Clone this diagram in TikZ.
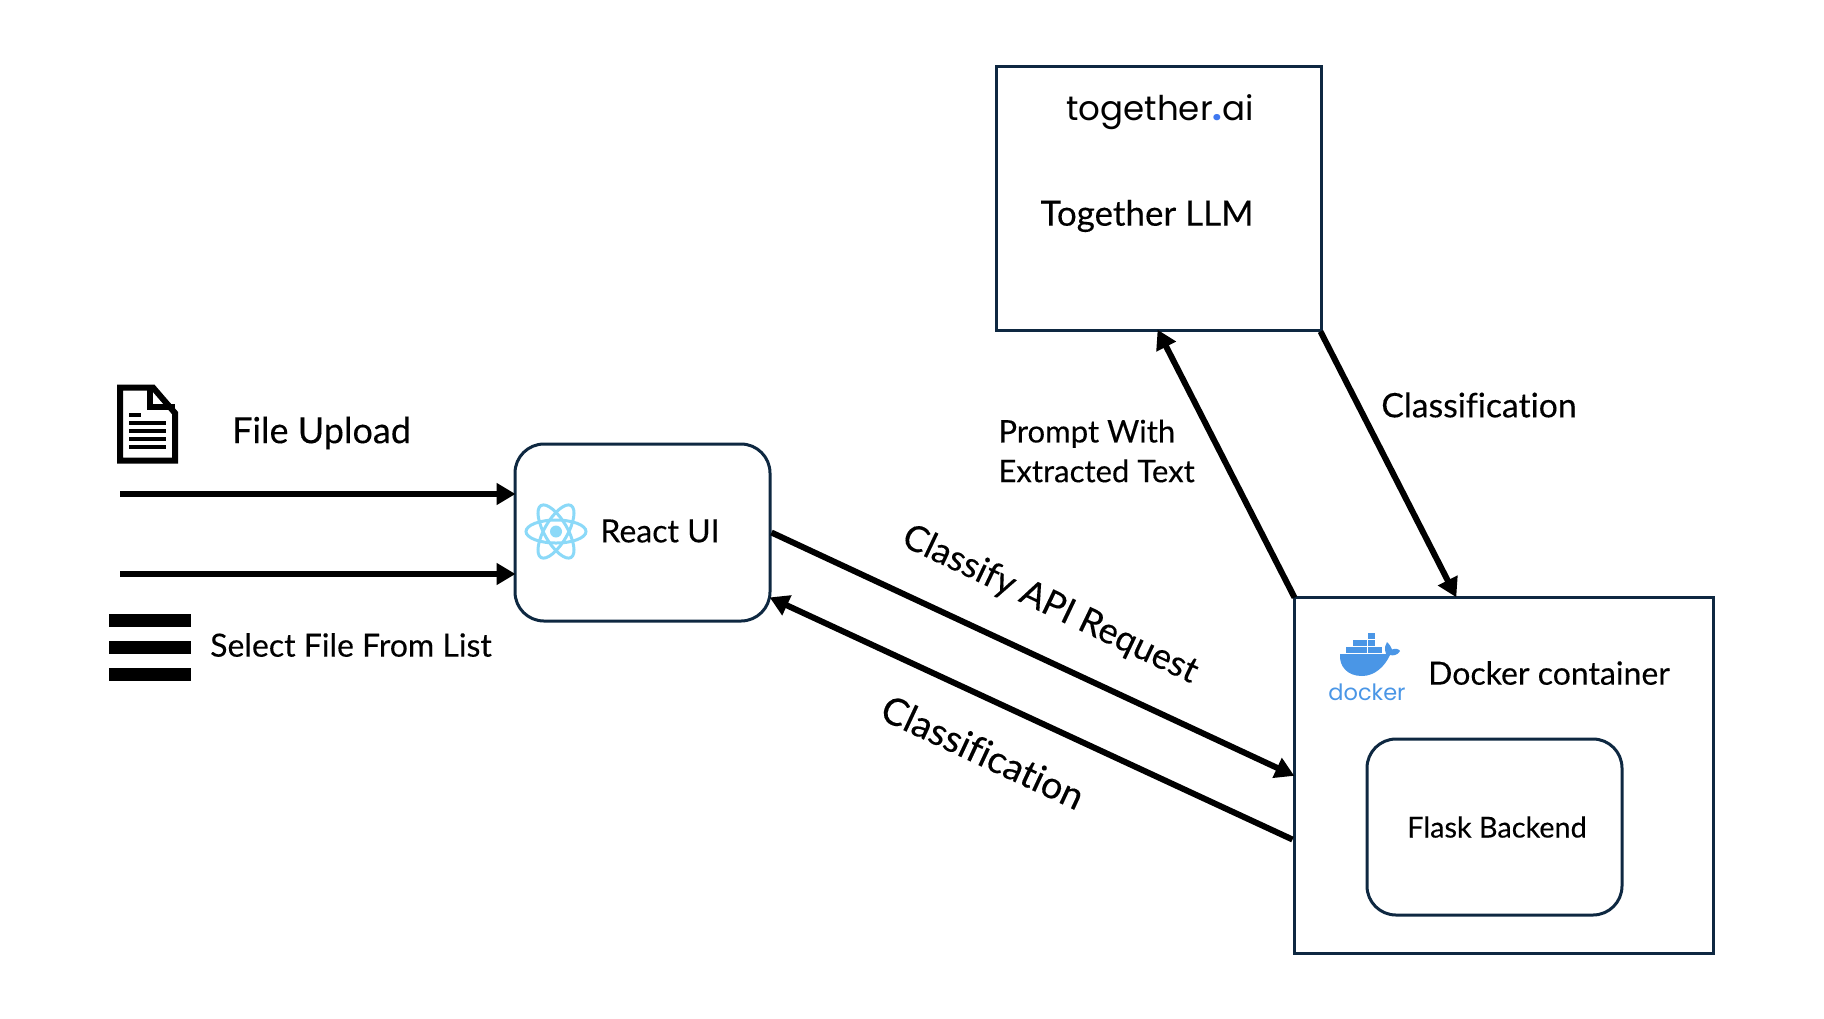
\documentclass[tikz,border=0pt]{standalone}
\usepackage{fontspec}
\setmainfont{Lato}[Ligatures=CommonOff, RawFeature={embolden=0.25}]
\newfontfamily\logofont{Poppins}
\usepackage{tikz}
\usetikzlibrary{arrows.meta}
\definecolor{boxNavy}{HTML}{0E2841}
\definecolor{reactBlue}{HTML}{8BD9F8}
\definecolor{dockerBlue}{HTML}{4A96E6}
\definecolor{togetherBlue}{HTML}{3F78F0}

\begin{document}
\begin{tikzpicture}[
	sharpBox/.style={draw=boxNavy, line width=0.03cm, minimum width=#1, inner sep=0},
	softBox/.style={draw=boxNavy, line width=0.03cm, rounded corners=0.29cm, inner sep=0},
	flow/.style={line width=0.06cm, shorten >=-0.02cm, -{Triangle[length=0.19cm, width=0.21cm]}},
	bigText/.style={font=\fontsize{10.25}{12}\selectfont},
	midText/.style={font=\fontsize{9.1}{11.3}\selectfont, align=left},
	smallText/.style={font=\fontsize{8.2}{9}\selectfont}
]
\useasboundingbox (0, 0) rectangle (18.24, -10.18);

% Boxes
\node [sharpBox=3.25cm, minimum height=2.64cm] (together) at (11.585, -1.98) {};
\node [sharpBox=4.19cm, minimum height=3.56cm] (docker) at (15.035, -7.75) {};
\node [softBox, minimum width=2.55cm, minimum height=1.77cm] (react) at (6.425, -5.325) {};
\node [softBox, minimum width=2.55cm, minimum height=1.76cm] (flask) at (14.945, -8.27) {};

% Box texts
\node [font=\logofont\fontsize{9.7}{12}\selectfont] (togetherLogo) at (11.6, -1.12) {together\textcolor{togetherBlue}{\bfseries.}ai};
\node [bigText, font=\fontsize{9.95}{12}\selectfont] (togetherText) at (11.47, -2.16) {Together LLM};
\node [midText] (reactText) at (6.6, -5.31) {React UI};
\node [midText] (dockerText) at (15.49, -6.73) {Docker container};
\node [smallText] (flaskText) at (14.97, -8.27) {Flask Backend};

% Outside texts
\node [bigText] (uploadText) at (3.215, -4.33) {File Upload};
\node [midText] (selectText) at (3.51, -6.45) {Select File From List};
\node [midText, font=\fontsize{8.85}{11.3}\selectfont, anchor=west] (promptText) at (9.86, -4.51) {Prompt With\\Extracted Text};
\node [midText, font=\fontsize{9.6}{11}\selectfont] (upClassText) at (14.79, -4.05) {Classification};
\node [midText, font=\fontsize{10.2}{11}\selectfont, rotate=-25.5] (apiText) at (10.5, -6.05) {Classify API Request};
\node [midText, font=\fontsize{10.75}{11}\selectfont, rotate=-25] (downClassText) at (9.83, -7.52) {Classification};

% Connectors
\coordinate (uploadStart) at (1.2, -4.94);
\coordinate (selectStart) at (1.2, -5.74);
\draw [flow] (uploadStart) -- (uploadStart -| react.west);
\draw [flow] (selectStart) -- (selectStart -| react.west);
\draw [flow] (react.east) -- (docker.west);
\draw [flow] (docker.197) -- (react.-27);
\draw [flow] ([shift={(0.02, -0.02)}]docker.north west) -- (together.south);
\draw [flow] ([xshift=-0.02cm]together.south east) -- (docker.105);

% File icon
\draw [line width=0.06cm, miter limit=10] (1.2, -3.875) -- (1.53, -3.875) -- (1.75, -4.13) -- (1.75, -4.605) -- (1.2, -4.605) -- cycle;
\draw [line width=0.06cm] (1.5, -3.875) -- (1.5, -4.07) -- (1.75, -4.07);
\draw [line width=0.035cm] (1.29, -4.15) -- (1.41, -4.15);
\foreach \y in {-4.23, -4.31, -4.39, -4.47}
	\draw [line width=0.035cm] (1.29, \y) -- (1.66, \y);

% List icon
\foreach \y in {-6.14, -6.41, -6.68}
	\fill (1.09, \y) rectangle (1.91, \y - 0.13);

% React logo
\foreach \a in {0, 60, 120}
	\draw [reactBlue, line width=0.03cm, rotate around={\a:(5.56, -5.315)}] (5.56, -5.315) ellipse (0.3 and 0.115);
\fill [reactBlue] (5.56, -5.315) circle (0.06);

% Docker logo
\fill [dockerBlue] (13.4, -6.54) -- (13.86, -6.54) .. controls (13.84, -6.48) and (13.85, -6.45) .. (13.87, -6.42)
	.. controls (13.9, -6.45) and (13.91, -6.47) .. (13.92, -6.495) .. controls (13.95, -6.48) and (13.99, -6.49) .. (14.0, -6.51)
	.. controls (13.98, -6.55) and (13.93, -6.56) .. (13.9, -6.55) .. controls (13.85, -6.66) and (13.75, -6.76) .. (13.62, -6.76)
	.. controls (13.47, -6.76) and (13.39, -6.66) .. (13.4, -6.54) -- cycle;
\foreach \x in {13.46, 13.53, 13.6, 13.68, 13.75}
	\fill [dockerBlue] (\x, -6.465) rectangle (\x + 0.065, -6.525);
\foreach \x in {13.53, 13.6, 13.68}
	\fill [dockerBlue] (\x, -6.395) rectangle (\x + 0.065, -6.455);
\fill [dockerBlue] (13.68, -6.33) rectangle (13.745, -6.39);
\node [dockerBlue, font=\logofont\fontsize{6.4}{8}\selectfont] (dockerLogo) at (13.67, -6.92) {docker};
\end{tikzpicture}
\end{document}
